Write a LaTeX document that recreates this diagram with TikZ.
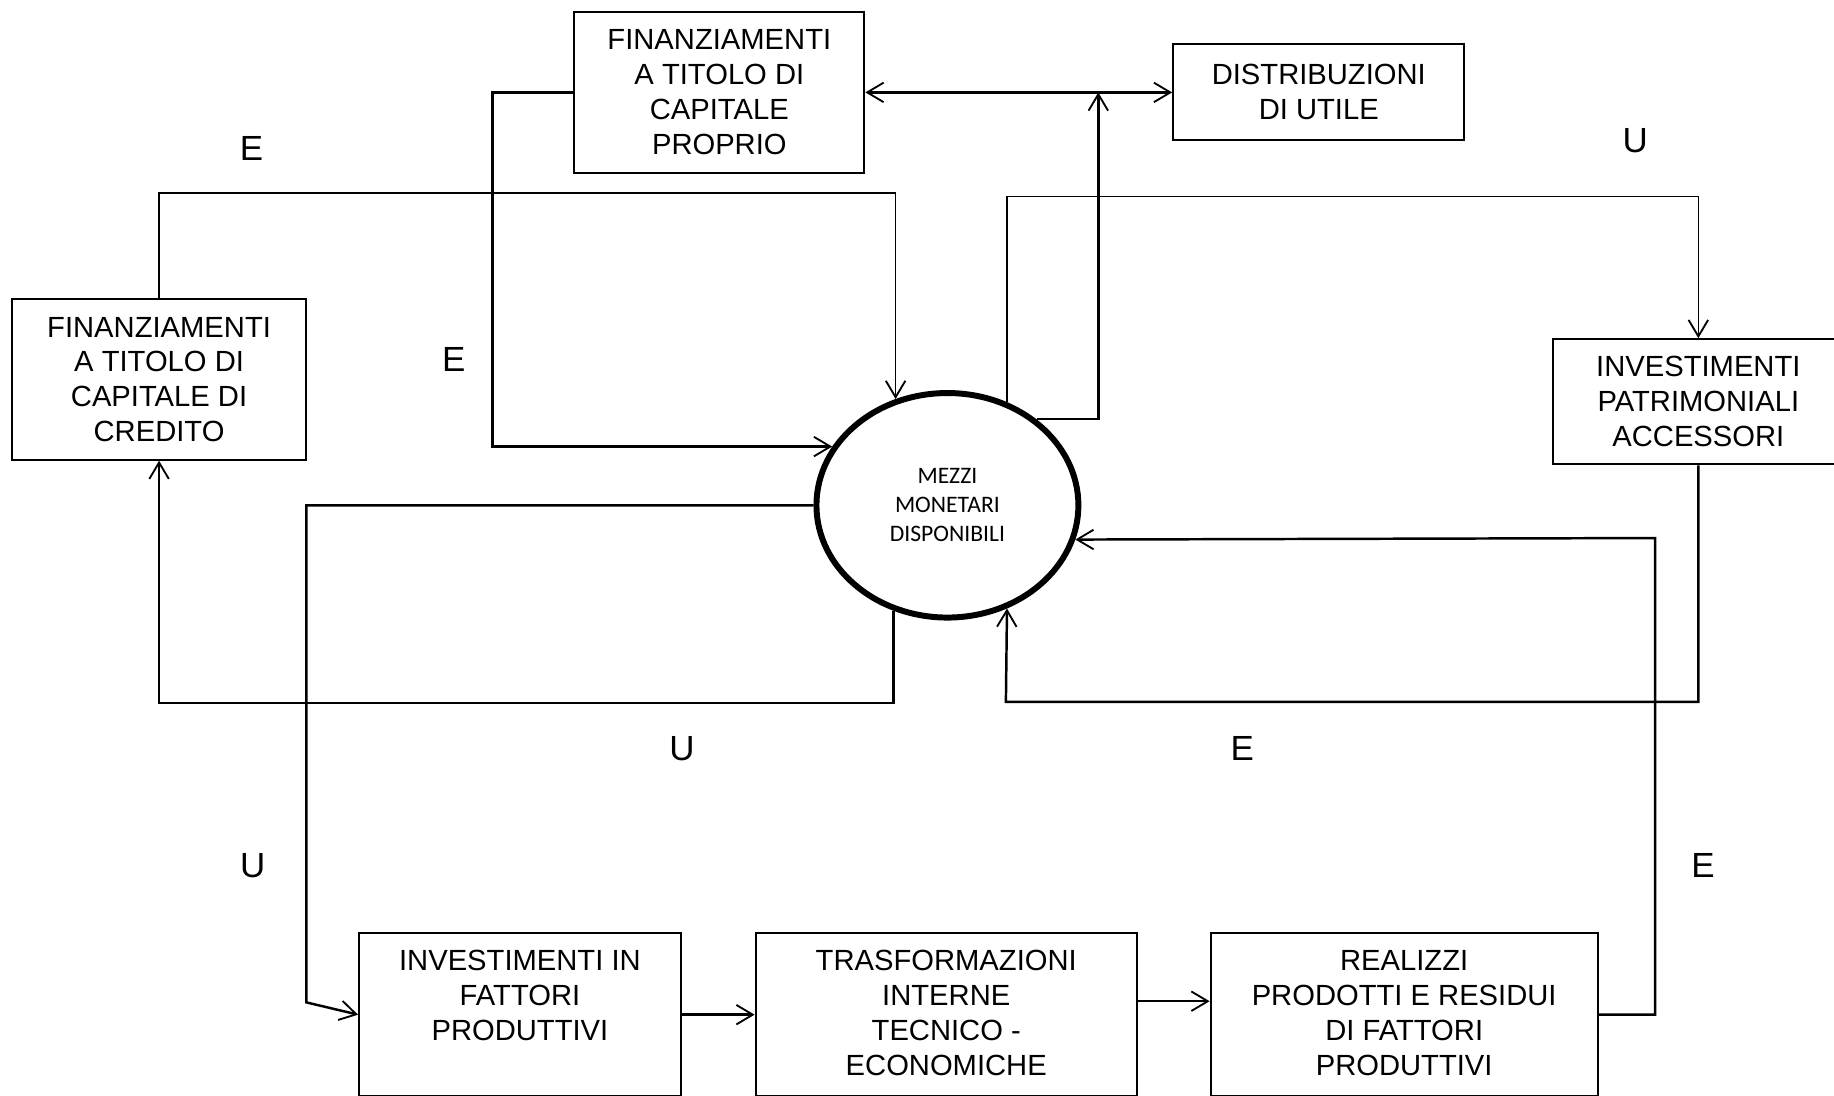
\documentclass[tikz,border=0pt]{standalone}
\usepackage{fontspec}
\setmainfont{Liberation Sans}
\newfontfamily\carlito{Carlito}
\usetikzlibrary{arrows.meta,shapes.geometric}

\tikzset{
  box/.style={draw, line width=1pt, rectangle, inner sep=0pt},
  boxtext/.style={align=center, inner sep=0pt, font=\fontsize{14.2}{17}\selectfont},
  flow/.style={line width=1.2pt},
  thinflow/.style={line width=0.8pt},
  tip/.style={-{Straight Barb[length=8pt,width=9.5pt,line width=0.9pt]}},
  letter/.style={font=\fontsize{17}{20}\selectfont, inner sep=0pt},
  cashpool/.style={draw, ellipse, line width=2.9pt, minimum width=4.48cm, minimum height=3.84cm, inner sep=0pt,
    align=center, font=\carlito\fontsize{11.5}{14.2}\selectfont}
}

\begin{document}
\begin{tikzpicture}[x=0.02cm, y=-0.02cm]
\useasboundingbox (0,0) rectangle (1568,937);

% central pool of cash
\node[cashpool] (m) at (810,432) {MEZZI\\MONETARI\\DISPONIBILI};

% upper and side boxes
\node[box, boxtext, minimum width=4.96cm, minimum height=2.76cm] (fcp) at (615,79)
  {FINANZIAMENTI\\A TITOLO DI\\CAPITALE\\PROPRIO};
\node[box, boxtext, minimum width=4.98cm, minimum height=1.64cm] (dist) at (1127.5,79)
  {DISTRIBUZIONI\\DI UTILE};
\node[box, boxtext, minimum width=5.04cm, minimum height=2.74cm] (fcc) at (136,324.5)
  {FINANZIAMENTI\\A TITOLO DI\\CAPITALE DI\\CREDITO};
\node[box, boxtext, minimum width=4.96cm, minimum height=2.14cm] (ipa) at (1452,343.5)
  {INVESTIMENTI\\PATRIMONIALI\\ACCESSORI};

% production cycle
\node[box, minimum width=5.5cm, minimum height=2.78cm] (ifp) at (444.5,867.5) {};
\node[box, minimum width=6.52cm, minimum height=2.78cm] (tie) at (809,867.5) {};
\node[box, minimum width=6.62cm, minimum height=2.78cm] (real) at (1200.5,867.5) {};
\node[boxtext, anchor=north] (ifpt) at (444.5,812) {INVESTIMENTI IN\\FATTORI\\PRODUTTIVI};
\node[boxtext, anchor=north] (tiet) at (809,812) {TRASFORMAZIONI\\INTERNE\\TECNICO -\\ECONOMICHE};
\node[boxtext, anchor=north] (realt) at (1200.5,812) {REALIZZI\\PRODOTTI E RESIDUI\\DI FATTORI\\PRODUTTIVI};

% bend points
\coordinate (j) at (939,79);
\coordinate (c1) at (859,168);
\coordinate (d1) at (766,165);
\coordinate (e1) at (421,79);
\coordinate (f2) at (262,857);
\coordinate (g1) at (136,601);
\coordinate (h1) at (860,600);
\coordinate (i1) at (1415,460);
\coordinate (k) at (1000,856);

% equity financing <-> profit distribution
\draw[flow, {Straight Barb[length=8pt,width=9.5pt,line width=0.9pt]}-{Straight Barb[length=8pt,width=9.5pt,line width=0.9pt]}]
  (fcp.east) -- (dist.west);
\draw[flow, tip] (m.44.2) -| (j);

% cash to accessory investments
\draw[thinflow, tip] (m.60.4) -- (m.60.4 |- c1) -- (ipa.north |- c1) -- (ipa.north);

% debt financing into cash
\draw[thinflow, tip] (fcc.north) -- (fcc.north |- d1) -- (m.116.5 |- d1) -- (m.116.5);

% equity financing into cash
\draw[flow, tip] (fcp.west) -- (e1) -- (e1 |- m.153) -- (m.153);

% cash to production factors
\draw[flow, tip] (m.180) -| (f2) -- (ifp.west);

% debt repayment
\draw[flow, tip] (m.243.5) |- (g1) -- (fcc.south);

% returns of accessory investments
\draw[flow, tip] (ipa.south) |- (h1) -- (m.300.2);

% sales revenues
\draw[flow, tip] (real.east) -| (i1) -- (m.345.35);

% production chain
\draw[flow, tip] (ifp.east) -- (tie.west);
\draw[flow, tip] (tie.east |- k) -- (real.west |- k);

% inflow / outflow marks
\node[letter] (l1) at (215,127) {E};
\node[letter] (l2) at (388,307) {E};
\node[letter] (l3) at (1398,120) {U};
\node[letter] (l4) at (583,640) {U};
\node[letter] (l5) at (1062,640) {E};
\node[letter] (l6) at (216,740) {U};
\node[letter] (l7) at (1456,740) {E};
\end{tikzpicture}
\end{document}
